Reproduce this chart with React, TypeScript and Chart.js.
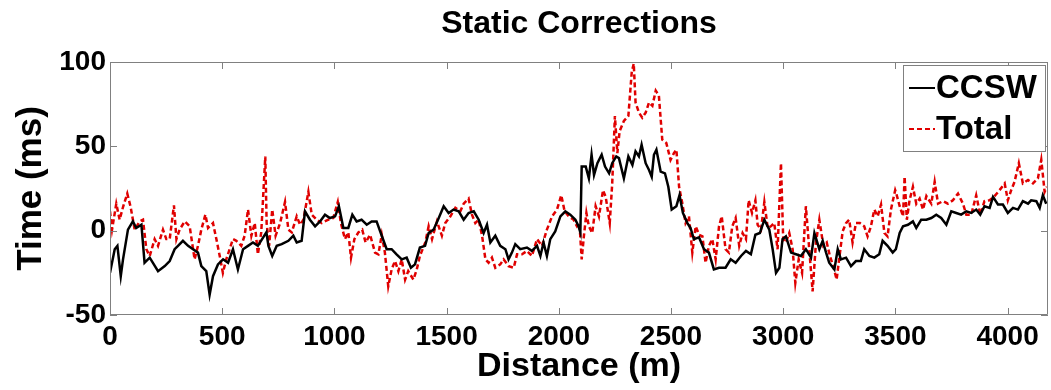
import React, { useEffect, useRef } from "react";
import { Chart, registerables } from "chart.js";

Chart.register(...registerables);

const chartTitle = "Static Corrections";
const xAxisTitle = "Distance (m)";
const yAxisTitle = "Time (ms)";
const xMin = 0;
const xMax = 4180;
const xStep = 500;
const yMin = -50;
const yMax = 100;
const yStep = 50;

const ccswLabel = "CCSW";
const ccswDist = [0, 21, 33, 48, 58, 80, 102, 117, 140, 154, 177, 214, 244, 266, 288, 303, 325, 348, 370, 392, 407, 429, 444, 459, 481, 504, 526, 548, 570, 593, 615, 637, 659, 697, 706, 723, 743, 765, 795, 817, 832, 854, 869, 891, 914, 936, 958, 980, 1003, 1020, 1040, 1062, 1080, 1099, 1121, 1144, 1166, 1188, 1211, 1233, 1255, 1277, 1300, 1322, 1341, 1359, 1381, 1404, 1420, 1442, 1465, 1487, 1509, 1531, 1554, 1576, 1598, 1621, 1643, 1665, 1680, 1695, 1717, 1739, 1762, 1776, 1791, 1806, 1828, 1858, 1880, 1903, 1918, 1932, 1947, 1962, 1984, 2007, 2029, 2051, 2074, 2088, 2096, 2102, 2120, 2134, 2146, 2157, 2172, 2191, 2206, 2224, 2238, 2256, 2268, 2290, 2310, 2328, 2342, 2357, 2369, 2387, 2402, 2414, 2424, 2435, 2454, 2473, 2488, 2503, 2524, 2538, 2553, 2573, 2587, 2602, 2625, 2647, 2669, 2691, 2714, 2743, 2766, 2788, 2812, 2834, 2856, 2876, 2896, 2916, 2938, 2953, 2968, 2983, 2997, 3012, 3035, 3057, 3079, 3101, 3124, 3139, 3161, 3176, 3191, 3205, 3228, 3243, 3257, 3280, 3302, 3324, 3346, 3361, 3384, 3406, 3428, 3443, 3465, 3488, 3502, 3519, 3534, 3556, 3578, 3593, 3615, 3638, 3660, 3682, 3704, 3727, 3749, 3771, 3793, 3816, 3838, 3860, 3878, 3897, 3920, 3935, 3957, 3979, 4001, 4024, 4046, 4068, 4091, 4105, 4128, 4143, 4157, 4172];
const ccswTime = [-25, -11, -9, -27, -17, 0.6, 5.5, 1.6, 3.5, -19, -16, -24, -21, -18, -11, -9, -6, -9, -11, -13, -21, -24, -38, -27, -20, -17, -19, -11, -23, -11, -9, -7, -9, -1, -9, -15, -9, -8, -6, -3, -7, -6, 11.5, 6.5, 2.6, 5.5, 9.5, 7.5, 8.5, 14.5, 1.6, 1.6, 9.5, 5.5, 6.5, 3.5, 5.5, 5.5, -3, -11, -11, -14, -17, -16, -22, -20, -10, -9, -1.4, 0.6, 7.5, 14.5, 10.5, 12.5, 11.5, 6.5, 10.5, 11.5, 6.5, -1.4, 3.5, -7, -3, -9, -11, -17, -13, -8, -11, -10, -12, -9, -15, -7, -15, -5, -0.4, 8.5, 11.5, 9.5, 6.5, 2.6, -1, 38, 38, 31, 45, 33, 40, 45, 38, 34, 40, 44, 43, 31, 44, 39, 47, 44, 51, 40, 36, 32, 45, 48, 35, 34, 26, 12.5, 14.5, 21, 10.5, 4.5, 1.6, -5, -4, -11, -13, -23, -22, -22, -17, -19, -15, -12, -14, -2.4, -1.4, 6.5, 0.6, -11, -25, -22, -5, -3.4, -13, -14, -15, -11, -16, -1.4, -11, -6, -13, -19, -23, -11, -17, -16, -21, -18, -18, -11, -15, -16, -14, -6, -9, -13, -11, -1.4, 2.6, 3.5, 5.5, 1.6, 6.5, 6.5, 7.5, 9.5, 7.5, 3.5, 11.5, 10.5, 9.5, 11.5, 10.5, 12.5, 9.5, 14.5, 13.5, 20, 15.5, 15.5, 10.5, 13.5, 12.5, 17.5, 16, 18, 17.5, 13.5, 21, 16];

const totalLabel = "Total";
const totalDist = [0, 9, 28, 43, 58, 77, 92, 110, 132, 147, 162, 177, 199, 214, 236, 251, 266, 285, 296, 310, 333, 355, 377, 392, 407, 425, 437, 459, 474, 489, 503, 518, 533, 548, 563, 585, 600, 615, 630, 645, 659, 674, 692, 698, 709, 723, 738, 758, 780, 795, 810, 832, 847, 862, 884, 899, 921, 943, 973, 995, 1015, 1029, 1047, 1062, 1074, 1089, 1107, 1124, 1139, 1159, 1181, 1196, 1211, 1225, 1240, 1255, 1270, 1285, 1300, 1315, 1329, 1352, 1367, 1381, 1405, 1420, 1435, 1457, 1479, 1494, 1517, 1539, 1561, 1576, 1598, 1613, 1628, 1643, 1658, 1673, 1687, 1702, 1717, 1739, 1754, 1776, 1799, 1814, 1836, 1858, 1880, 1903, 1925, 1947, 1970, 1992, 2011, 2026, 2044, 2066, 2081, 2092, 2102, 2112, 2123, 2134, 2149, 2164, 2179, 2197, 2209, 2227, 2238, 2250, 2261, 2271, 2290, 2310, 2325, 2334, 2342, 2357, 2372, 2387, 2402, 2417, 2432, 2446, 2461, 2479, 2498, 2513, 2524, 2536, 2550, 2565, 2580, 2595, 2610, 2625, 2640, 2654, 2669, 2684, 2699, 2714, 2726, 2743, 2758, 2773, 2788, 2804, 2819, 2834, 2846, 2861, 2876, 2886, 2901, 2916, 2931, 2945, 2960, 2975, 2990, 3000, 3012, 3027, 3042, 3054, 3069, 3084, 3101, 3116, 3131, 3146, 3161, 3179, 3194, 3208, 3223, 3238, 3253, 3265, 3280, 3294, 3309, 3324, 3342, 3361, 3376, 3391, 3406, 3421, 3436, 3451, 3465, 3480, 3499, 3504, 3519, 3534, 3541, 3551, 3563, 3578, 3593, 3608, 3623, 3638, 3660, 3675, 3690, 3712, 3734, 3756, 3779, 3801, 3816, 3838, 3860, 3878, 3897, 3920, 3942, 3964, 3987, 4001, 4016, 4031, 4050, 4068, 4091, 4113, 4135, 4150, 4165, 4175];
const totalTime = [11.5, 0.6, 16, 6.5, 14, 22, 14, 0.6, 5.5, 6.5, -11, -15, -5, -9, 0.6, -5, -5, 15, -5, 0.6, 5.5, 2.6, -17, -9, 0.6, 9.5, 1.6, 4.5, -5, -15, -25, -17, -11, -5, -6, -9, -3, 12.5, -3, 4.5, -14, -1, 44, 4.5, -9, 12.5, -3, 4.5, 17, 0.6, -1, 8.5, 3.5, 6.5, 23, 9.5, 6.5, 4.5, 6.5, 7.5, 17, 4.5, -5, -1, -16, -5, -1, 0.6, -7, -2.4, -13, -14, -2.4, -13, -33, -23, -18, -24, -17, -29, -24, -29, -23, -15, -7, 2.6, -5, 5.5, -3, 4.5, 8.5, 13.5, 11.5, 16, 19, 9.5, 4.5, 6.5, -3, -17, -19, -16, -22, -20, -17, -21, -22, -14, -14, -12, -15, -5, -9, 0.6, 8.5, 12.5, 21, 11.5, 8.5, 6.5, 2.6, 4.5, -17, -3, 10.5, 2.6, -1.4, 14.5, 8.5, 24, 20, 4.5, 28, 68, 46, 59, 65, 68, 94, 99, 76, 70, 67, 70, 76, 74, 83, 80, 54, 52, 42, 46, 48, 26, 16.5, 4.5, 8.5, -13, 2.6, -2.4, -3.4, -19, -9, -5, -17, 2.6, 8.5, -11, -13, 2.6, 7.5, -9, -1.4, -5, 18, 10.5, 18, 3.5, 0.6, 17, 1.6, 2.6, 4.5, -11, 40, -5, -7, -1.4, -11, -31, -17, -25, 14.5, -11, -36, -7, 6.5, -9, -7, -15, -21, -29, -13, -0.4, 4.5, 6.5, -7, 4.5, 4.5, 2.6, -3.4, 2.6, 12.5, 8.5, 15.5, -1.4, -3.4, 12.5, 24, 22, 14.5, 8.5, 32, 6.5, 18, 26, 16, 19, 12.5, 20.5, 16, 29, 16, 17.5, 16, 18, 22, 16, 9.5, 9.5, 21, 9.5, 17.5, 18, 20.5, 24, 28, 18, 24, 29, 40, 28, 30, 28, 31, 42, 23, 26];

const FONT = "'Liberation Sans', Arial, Helvetica, sans-serif";

const framePlugin = {
  id: "frameAndLegend",
  afterDatasetsDraw(chart: any) {
    const { ctx, chartArea: a, scales } = chart;
    const xs = scales.x;
    const ys = scales.y;
    ctx.save();
    // title centred over the plot area
    ctx.fillStyle = "#000000";
    ctx.font = `bold 32px ${FONT}`;
    ctx.textAlign = "center";
    ctx.textBaseline = "middle";
    ctx.fillText(chartTitle, (a.left + a.right) / 2, 24);

    ctx.strokeStyle = "#808080";
    ctx.lineWidth = 1;
    ctx.beginPath();
    ctx.rect(Math.round(a.left) + 0.5, Math.round(a.top) + 0.5, Math.round(a.right - a.left) - 1, Math.round(a.bottom - a.top) - 1);
    ctx.stroke();
    const tl = 7;
    ctx.beginPath();
    for (let v = xMin; v <= xMax; v += xStep) {
      const px = Math.round(xs.getPixelForValue(v)) + 0.5;
      ctx.moveTo(px, a.bottom);
      ctx.lineTo(px, a.bottom - tl);
      ctx.moveTo(px, a.top);
      ctx.lineTo(px, a.top + tl);
    }
    for (let v = yMin; v <= yMax; v += yStep) {
      const py = Math.round(ys.getPixelForValue(v)) + 0.5;
      ctx.moveTo(a.left, py);
      ctx.lineTo(a.left + tl, py);
      ctx.moveTo(a.right, py);
      ctx.lineTo(a.right - tl, py);
    }
    ctx.stroke();

    // legend
    const bw = 142;
    const bh = 86;
    const bx = a.right - bw - 3;
    const by = a.top + 3;
    ctx.fillStyle = "#ffffff";
    ctx.fillRect(bx, by, bw, bh);
    ctx.strokeStyle = "#808080";
    ctx.strokeRect(bx + 0.5, by + 0.5, bw, bh);
    const items = [
      { label: ccswLabel, color: "#000000", dash: [] as number[], y: by + 23 },
      { label: totalLabel, color: "#e00000", dash: [5, 3], y: by + 64 },
    ];
    ctx.font = `bold 33px ${FONT}`;
    ctx.textBaseline = "middle";
    ctx.textAlign = "left";
    for (const it of items) {
      ctx.strokeStyle = it.color;
      ctx.lineWidth = 2;
      ctx.setLineDash(it.dash);
      ctx.beginPath();
      ctx.moveTo(bx + 6, it.y);
      ctx.lineTo(bx + 32, it.y);
      ctx.stroke();
      ctx.setLineDash([]);
      ctx.fillStyle = "#000000";
      ctx.fillText(it.label, bx + 33, it.y + 1);
    }
    ctx.restore();
  },
};

export default function App() {
  const ref = useRef<HTMLCanvasElement | null>(null);
  useEffect(() => {
    document.body.style.margin = "0";
    if (!ref.current) return;
    const chart = new Chart(ref.current, {
      type: "line",
      data: {
        datasets: [
          {
            label: ccswLabel,
            data: ccswDist.map((x, i) => ({ x, y: ccswTime[i] })),
            borderColor: "#000000",
            borderWidth: 2.5,
            pointRadius: 0,
            tension: 0,
            fill: false,
          },
          {
            label: totalLabel,
            data: totalDist.map((x, i) => ({ x, y: totalTime[i] })),
            borderColor: "#e00000",
            borderWidth: 2.5,
            borderDash: [5, 3],
            pointRadius: 0,
            tension: 0,
            fill: false,
          },
        ],
      },
      options: {
        animation: false,
        responsive: false,
        maintainAspectRatio: false,
        layout: { padding: { left: 0, right: 3, top: 62, bottom: 0 } },
        plugins: {
          legend: { display: false },
          tooltip: { enabled: false },
          title: { display: false },
        },
        scales: {
          x: {
            type: "linear",
            min: xMin,
            max: xMax,
            grid: { display: false, drawTicks: false },
            border: { display: false },
            afterBuildTicks: (scale: any) => {
              const out: any[] = [];
              for (let v = xMin; v <= xMax; v += xStep) out.push({ value: v });
              scale.ticks = out;
            },
            afterFit: (scale: any) => {
              scale.height = 75;
            },
            ticks: {
              autoSkip: false,
              maxRotation: 0,
              minRotation: 0,
              padding: 5,
              color: "#000000",
              font: { family: FONT, size: 28, weight: "bold" },
              callback: (v: any) => String(v),
            },
            title: {
              display: true,
              text: xAxisTitle,
              color: "#000000",
              font: { family: FONT, size: 34, weight: "bold" },
              padding: { top: 0, bottom: 3 },
            },
          },
          y: {
            type: "linear",
            min: yMin,
            max: yMax,
            grid: { display: false, drawTicks: false },
            border: { display: false },
            afterFit: (scale: any) => {
              scale.width = 110;
            },
            ticks: {
              stepSize: yStep,
              padding: 4,
              color: "#000000",
              font: { family: FONT, size: 28, weight: "bold" },
              callback: (v: any) => String(v),
            },
            title: {
              display: true,
              text: yAxisTitle,
              color: "#000000",
              font: { family: FONT, size: 35, weight: "bold" },
              padding: { top: 10, bottom: 0 },
            },
          },
        },
      },
      plugins: [framePlugin],
    });
    return () => chart.destroy();
  }, []);
  return (
    <div style={{ position: "absolute", left: 0, top: 0, width: 1051, height: 390, background: "#fff" }}>
      <canvas ref={ref} width={1051} height={390} />
    </div>
  );
}
